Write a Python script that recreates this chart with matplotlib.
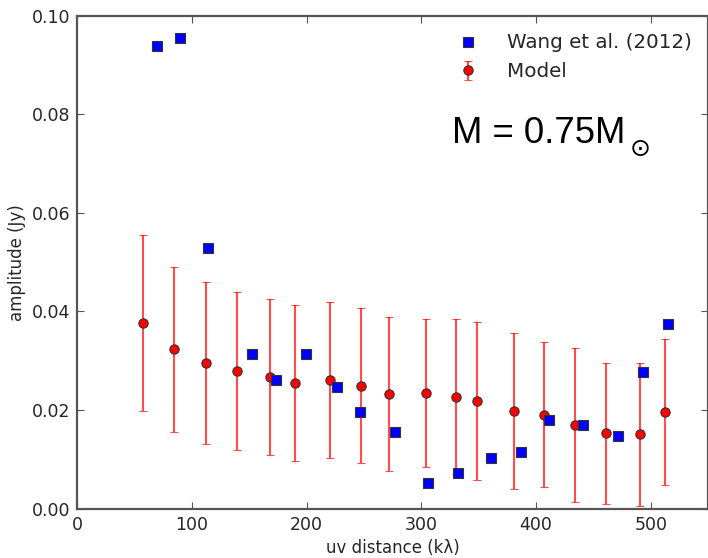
import matplotlib
matplotlib.use("Agg")
import matplotlib.pyplot as plt

# Model (red circles with error bars)
model_x = [57.8, 84.9, 112.5, 139.5, 168.3, 190.1, 220.6, 247.6, 272.0, 303.7,
           329.8, 348.9, 380.4, 406.9, 434.2, 461.2, 490.2, 512.0]
model_y = [0.0377, 0.0323, 0.0296, 0.0279, 0.0267, 0.0255, 0.0261, 0.0249, 0.0233, 0.0235,
           0.0227, 0.0218, 0.0198, 0.0191, 0.0169, 0.0153, 0.0151, 0.0196]
model_err = [0.0178, 0.0167, 0.0164, 0.0161, 0.0159, 0.0158, 0.0159, 0.0157, 0.0156, 0.0150,
             0.0157, 0.0160, 0.0158, 0.0148, 0.0156, 0.0143, 0.0145, 0.0148]

# Wang et al. (2012) (blue squares)
obs_x = [70.0, 89.5, 113.9, 152.6, 173.5, 199.7, 226.4, 246.7, 277.2, 306.0,
         332.2, 360.7, 386.8, 411.5, 440.6, 471.1, 492.9, 515.0]
obs_y = [0.0939, 0.0955, 0.0528, 0.0314, 0.0261, 0.0314, 0.0247, 0.0196, 0.0155, 0.0052,
         0.0072, 0.0102, 0.0114, 0.0179, 0.0169, 0.0148, 0.0277, 0.0375]

text_color = "#262626"
spine_color = "#555555"

fig = plt.figure(figsize=(7.08, 5.58), dpi=100)
ax = fig.add_axes([0.1088, 0.0884, 0.8915, 0.8836])

ax.plot(obs_x, obs_y, "s", color="blue", markersize=6.5, markeredgecolor="#333333",
        markeredgewidth=0.8, label="Wang et al. (2012)", zorder=4)
ax.errorbar(model_x, model_y, yerr=model_err, fmt="o", color="red", ecolor=(1, 0, 0, 0.7),
            elinewidth=1.5, capsize=3, capthick=1.2, markersize=6.7,
            markeredgecolor="#333333", markeredgewidth=0.8, label="Model", zorder=3)

ax.set_xlim(0, 550)
ax.set_ylim(0, 0.10)
ax.set_xticks([0, 100, 200, 300, 400, 500])
ax.set_yticks([0.0, 0.02, 0.04, 0.06, 0.08, 0.10])
ax.set_yticklabels(["0.00", "0.02", "0.04", "0.06", "0.08", "0.10"])

ax.tick_params(direction="in", top=True, right=True, length=5, width=0.8,
               color=spine_color, labelsize=12.5, labelcolor=text_color, pad=5)
for s in ax.spines.values():
    s.set_color(spine_color)
    s.set_linewidth(1.6)

ax.set_xlabel("uv distance (kλ)", fontsize=12, color=text_color, labelpad=4)
ax.set_ylabel("amplitude (Jy)", fontsize=12, color=text_color, labelpad=4)

leg = ax.legend(loc="upper right", frameon=False, numpoints=1,
                fontsize=14.3, bbox_to_anchor=(1.003, 1.0), handletextpad=1.0,
                labelspacing=0.5)
for t in leg.get_texts():
    t.set_color(text_color)

main = ax.text(327, 0.0742, "M = 0.75M", fontsize=26.3, va="baseline",
               family=["Liberation Sans", "DejaVu Sans"], color="black")
ax.annotate("\u2299", xy=(1, 0), xycoords=main, xytext=(3, -3.5), textcoords="offset points",
            fontsize=18, family=["DejaVu Sans"], color="black", ha="left", va="baseline")

fig.savefig("out.png", dpi=100)
